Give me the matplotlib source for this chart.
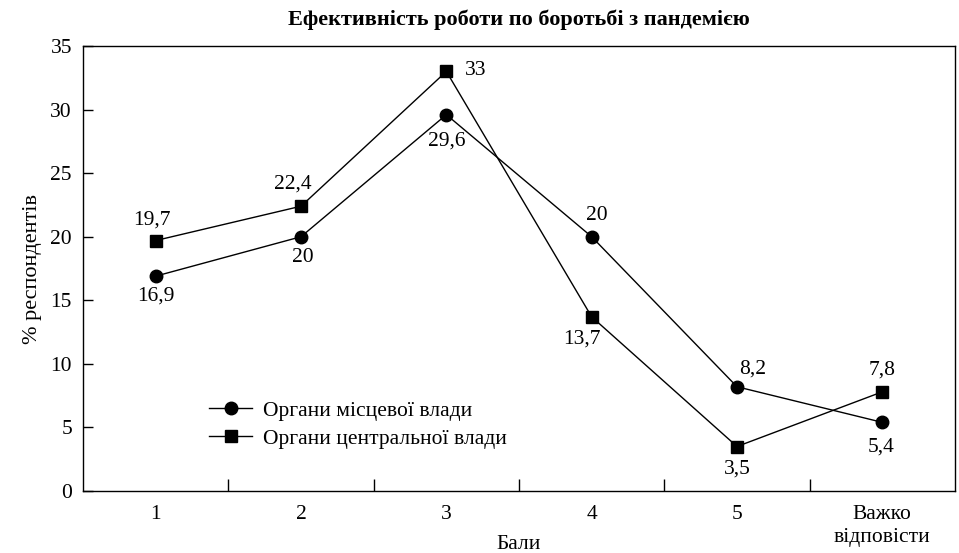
import matplotlib.pyplot as plt
import numpy as np

plt.rcParams['font.family'] = ['Liberation Serif', 'DejaVu Serif']

# Data
categories = ["1", "2", "3", "4", "5", "Важко\nвідповісти"]
local_gov = [16.9, 20, 29.6, 20, 8.2, 5.4]
central_gov = [19.7, 22.4, 33, 13.7, 3.5, 7.8]
local_labels = ["16,9", "20", "29,6", "20", "8,2", "5,4"]
central_labels = ["19,7", "22,4", "33", "13,7", "3,5", "7,8"]

fig = plt.figure(figsize=(9.59, 5.53), dpi=100)
ax = fig.add_axes([0.0866, 0.1121, 0.9092, 0.8047])

x = np.arange(len(categories))
ax.plot(x, local_gov, color="black", lw=1, marker="o", markersize=9,
        label="Органи місцевої влади")
ax.plot(x, central_gov, color="black", lw=1, marker="s", markersize=9,
        label="Органи центральної влади")

# data labels: (dx, dy) offsets in points
local_off = [(0, -14), (1, -15), (0, -19), (4, 15), (11, 13), (-1, -18)]
central_off = [(-3, 15), (-6, 16), (21, 1), (-7, -16), (0, -16), (0, 16)]
fs = 15.5
for i in range(len(x)):
    dx, dy = local_off[i]
    ax.annotate(local_labels[i], (x[i], local_gov[i]), xytext=(dx, dy),
                textcoords="offset points", ha="center", va="center", fontsize=fs)
    dx, dy = central_off[i]
    ax.annotate(central_labels[i], (x[i], central_gov[i]), xytext=(dx, dy),
                textcoords="offset points", ha="center", va="center", fontsize=fs)

ax.set_xlim(-0.5, len(categories) - 0.5)
ax.set_ylim(0, 35)
ax.set_yticks(np.arange(0, 36, 5))
ax.set_xticks(x)
ax.set_xticklabels(categories, fontsize=fs, va="top", linespacing=1.3)
ax.set_xticks(np.arange(0.5, len(categories) - 1, 1), minor=True)
ax.tick_params(axis="x", which="major", length=0, pad=10)
ax.tick_params(axis="x", which="minor", direction="in", length=9, width=1)
ax.tick_params(axis="y", direction="in", length=7, width=1, labelsize=fs, pad=8)

for s in ax.spines.values():
    s.set_linewidth(1)

ax.set_xlabel("Бали", fontsize=fs)
ax.xaxis.set_label_coords(0.5, -0.098)
ax.set_ylabel("% респондентів", fontsize=16, labelpad=6)
ax.set_title("Ефективність роботи по боротьбі з пандемією", fontsize=16,
             fontweight="bold", pad=15)

ax.legend(loc="upper left", bbox_to_anchor=(0.135, 0.222), frameon=False,
          fontsize=fs, handlelength=2.0, handletextpad=0.5, labelspacing=0.35,
          borderaxespad=0)

plt.savefig("out.png", dpi=100)
